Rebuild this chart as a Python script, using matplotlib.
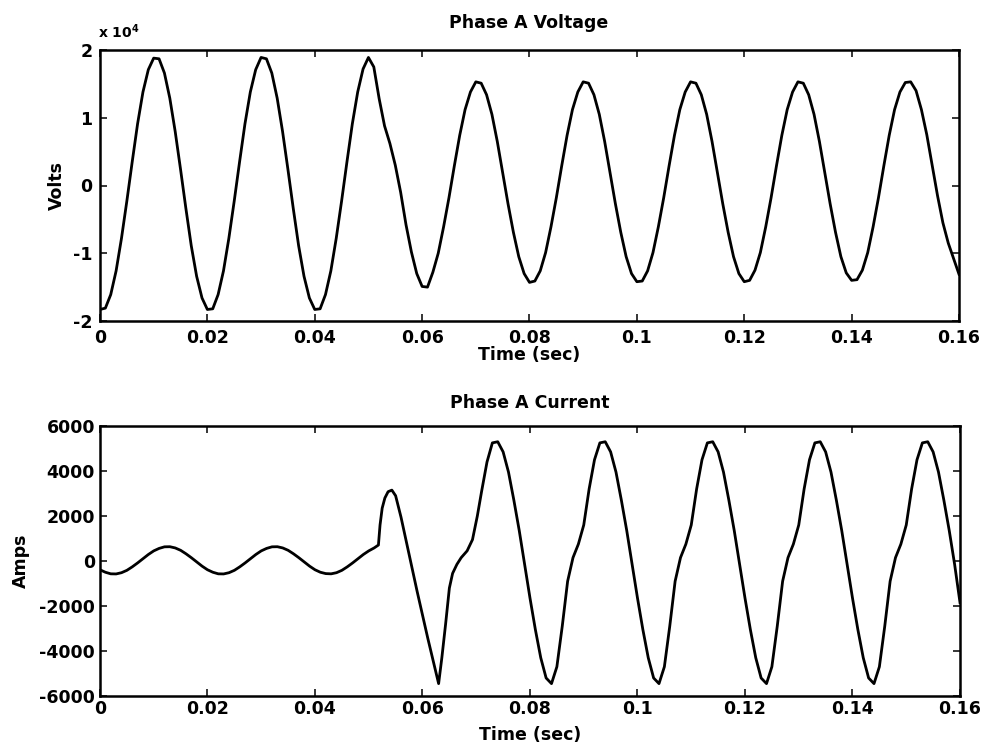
import matplotlib.pyplot as plt
import numpy as np
from matplotlib.ticker import FuncFormatter

plt.rcParams['font.family'] = 'DejaVu Sans'
plt.rcParams['font.weight'] = 'bold'
plt.rcParams['axes.labelweight'] = 'bold'
plt.rcParams['axes.unicode_minus'] = False
plt.rcParams['mathtext.default'] = 'bf'

# Phase A voltage, sampled every 1 ms (V)
t_volt_ms = list(range(0, 161))
volts = [
    -18300, -18100, -16100, -12600, -7800, -2300, 3500, 9100, 13800, 17100,
    18800, 18700, 16600, 12900, 8000, 2400, -3400, -8900, -13400, -16600,
    -18300, -18200, -16100, -12600, -7800, -2300, 3500, 9100, 13800, 17100,
    18900, 18700, 16600, 12900, 8000, 2400, -3400, -8900, -13400, -16600,
    -18300, -18200, -16100, -12600, -7800, -2300, 3500, 9100, 13800, 17200,
    18900, 17500, 12800, 8800, 6200, 3000, -1000, -5800, -9800, -13000,
    -14900, -15000, -12800, -10000, -6100, -1800, 2900, 7400, 11200, 13800,
    15300, 15100, 13400, 10500, 6500, 1900, -2700, -6900, -10500, -13000,
    -14300, -14100, -12600, -9900, -6100, -1800, 2900, 7400, 11200, 13800,
    15300, 15100, 13400, 10500, 6500, 1900, -2700, -6900, -10500, -13000,
    -14200, -14100, -12600, -9900, -6100, -1800, 2900, 7400, 11200, 13800,
    15300, 15100, 13400, 10500, 6500, 1900, -2700, -6900, -10500, -13000,
    -14200, -14000, -12500, -9900, -6100, -1800, 2900, 7400, 11200, 13800,
    15300, 15100, 13400, 10500, 6500, 1900, -2700, -6900, -10500, -12900,
    -14000, -13900, -12500, -9900, -6100, -1800, 2900, 7400, 11200, 13800,
    15200, 15300, 14000, 11200, 7500, 3000, -1500, -5500, -8500, -10800,
    -13100,
]

# Phase A current (A); denser samples around the fault transient
t_amp_ms = (list(range(0, 52))
            + [51.8, 52.1, 52.5, 53.0, 53.6, 54.3, 55, 56, 57, 58, 59, 60, 61,
               62, 63, 63.6, 64.3, 65, 65.6, 66.4, 67.2, 68.3, 69.3, 70.2, 71, 72]
            + list(range(73, 161)))
amps = [
    -390, -500, -570, -575, -520, -415, -260, -85, 105, 290,
    450, 560, 630, 635, 580, 475, 320, 145, -45, -230,
    -390, -500, -570, -575, -520, -415, -260, -85, 105, 290,
    450, 560, 630, 635, 580, 475, 320, 145, -45, -230,
    -390, -500, -560, -570, -520, -415, -260, -85, 105, 290,
    450, 580,
    710, 1600, 2350, 2800, 3080, 3150, 2900, 1950, 850, -250, -1350, -2400, -3450,
    -4450, -5450, -4300, -2800, -1200, -550, -150, 150, 450, 950, 2000, 3100, 4400,
    5250, 5300, 4850, 3950, 2700, 1350, -150, -1650, -3050, -4300,
    -5200, -5450, -4700, -2900, -900, 150, 750, 1600, 3200, 4500,
    5250, 5300, 4850, 3950, 2700, 1350, -150, -1650, -3050, -4300,
    -5200, -5450, -4700, -2900, -900, 150, 750, 1600, 3200, 4500,
    5250, 5300, 4850, 3950, 2700, 1350, -150, -1650, -3050, -4300,
    -5200, -5450, -4700, -2900, -900, 150, 750, 1600, 3200, 4500,
    5250, 5300, 4850, 3950, 2700, 1350, -150, -1650, -3050, -4300,
    -5200, -5450, -4700, -2900, -900, 150, 750, 1600, 3200, 4500,
    5250, 5300, 4850, 3950, 2700, 1350, -150, -1850,
]

time_ticks = [0, 0.02, 0.04, 0.06, 0.08, 0.1, 0.12, 0.14, 0.16]
volt_ticks = [-20000, -10000, 0, 10000, 20000]
amp_ticks = [-6000, -4000, -2000, 0, 2000, 4000, 6000]

W, H = 987, 751
fig = plt.figure(figsize=(W / 100, H / 100), dpi=100)
ax1 = fig.add_axes([100 / W, 1 - 321 / H, 859 / W, 271 / H])
ax2 = fig.add_axes([100 / W, 1 - 696 / H, 860 / W, 270 / H])


def style(ax, xpad, ypad):
    ax.set_xlim(0, 0.16)
    ax.set_xticks(time_ticks)
    ax.xaxis.set_major_formatter(FuncFormatter(lambda v, p: f'{v:g}'))
    ax.tick_params(direction='in', length=5, width=1.1, top=True, right=True,
                   labelsize=12.5)
    ax.tick_params(axis='x', pad=xpad)
    ax.tick_params(axis='y', pad=ypad)
    for s in ax.spines.values():
        s.set_linewidth(1.8)


ax1.plot(np.array(t_volt_ms) / 1000, volts, color='black', lw=2.0)
style(ax1, 5.8, 5.5)
ax1.set_ylim(-20000, 20000)
ax1.set_yticks(volt_ticks)
ax1.yaxis.set_major_formatter(FuncFormatter(lambda v, p: f'{v / 1e4:g}'))
ax1.set_xlabel('Time (sec)', fontsize=12.5, fontweight='bold')
ax1.xaxis.set_label_coords(0.5, -(346 - 321) / 271)
ax1.set_ylabel('Volts', fontsize=12.5, fontweight='bold')
ax1.yaxis.set_label_coords(-0.040, 0.5)

ax2.plot(np.array(t_amp_ms) / 1000, amps, color='black', lw=2.0)
style(ax2, 2.9, 3.6)
ax2.set_ylim(-6000, 6000)
ax2.set_yticks(amp_ticks)
ax2.yaxis.set_major_formatter(FuncFormatter(lambda v, p: f'{v:.0f}'))
ax2.set_xlabel('Time (sec)', fontsize=12.5, fontweight='bold')
ax2.xaxis.set_label_coords(0.5, -(726 - 696) / 270)
ax2.set_ylabel('Amps', fontsize=12.5, fontweight='bold')
ax2.yaxis.set_label_coords(-0.0815, 0.5)

fig.text(529 / W, 1 - 28 / H, 'Phase A Voltage', ha='center', va='baseline',
         fontsize=12.5, fontweight='bold')
fig.text(530 / W, 1 - 408 / H, 'Phase A Current', ha='center', va='baseline',
         fontsize=12.5, fontweight='bold')
fig.text(98 / W, 1 - 38 / H, r'x 10$^{4}$', ha='left', va='baseline',
         fontsize=10, fontweight='bold')

fig.savefig('out.png', dpi=100)
